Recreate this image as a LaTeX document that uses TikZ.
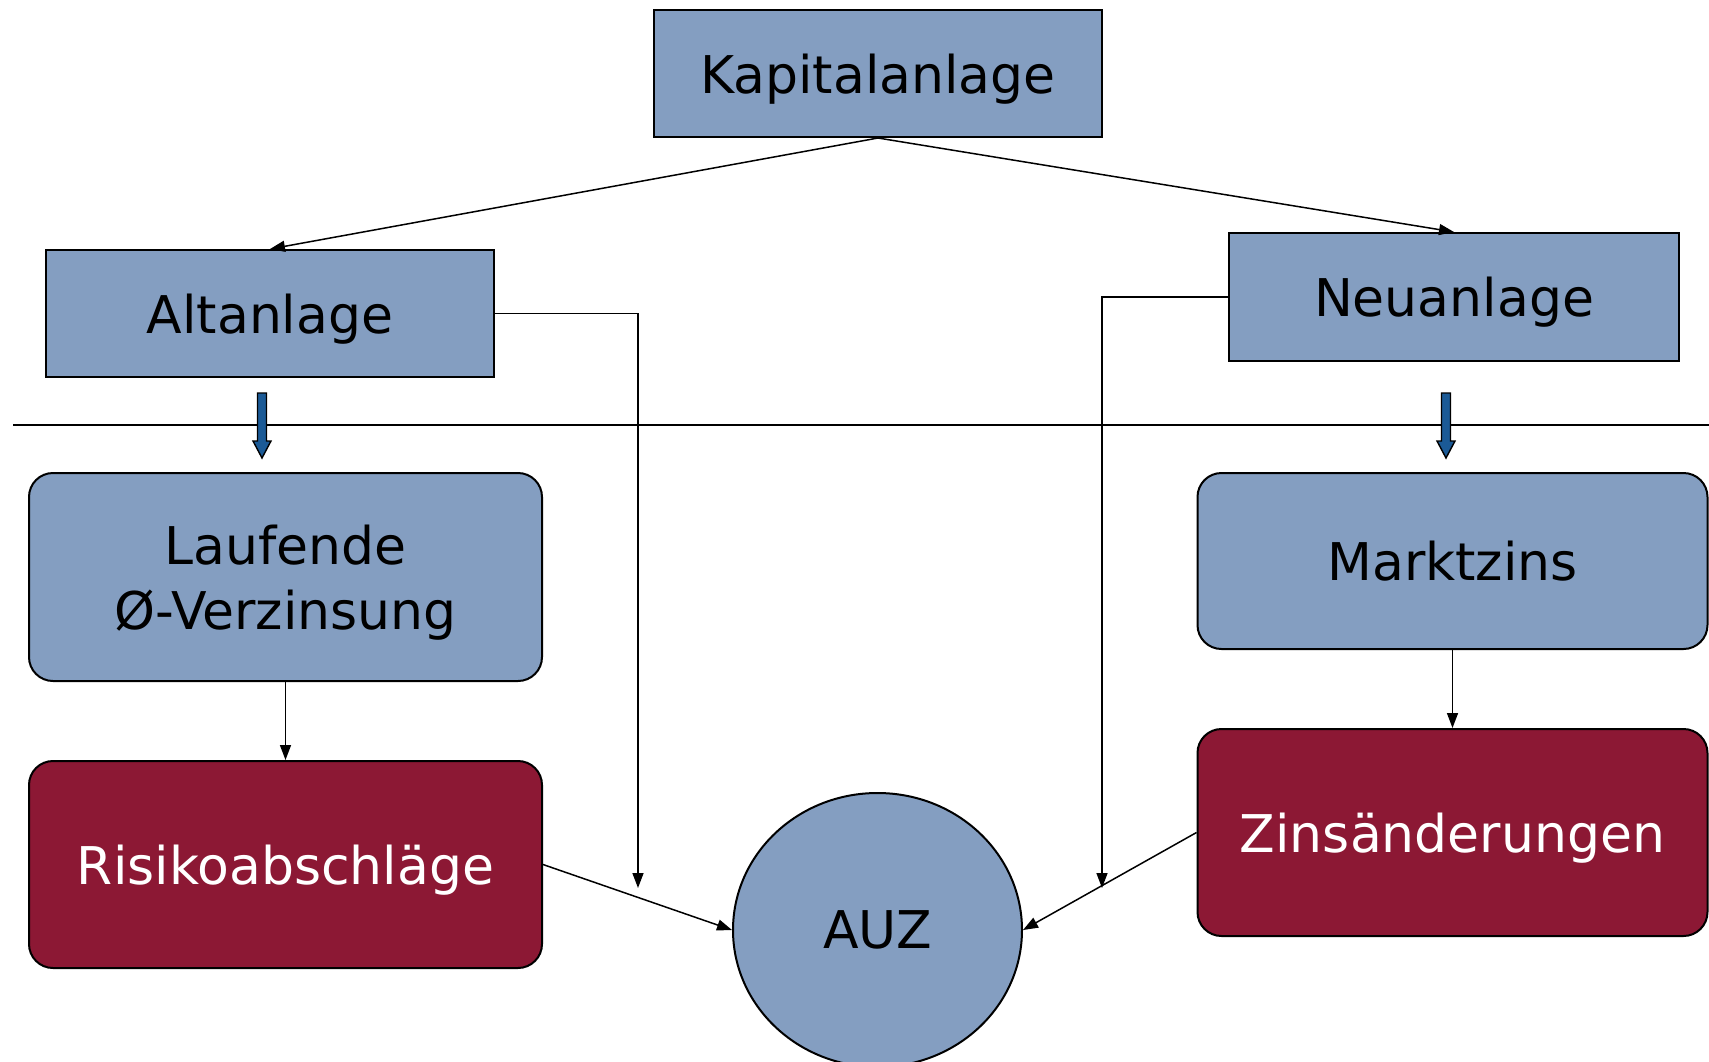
\documentclass[tikz,border=0pt]{standalone}
\usepackage{fontspec}
\setmainfont{DejaVu Sans}
\usetikzlibrary{arrows.meta,shapes.geometric}
\definecolor{boxblue}{RGB}{132,158,193}
\definecolor{boxred}{RGB}{140,24,52}
\definecolor{arrblue}{RGB}{27,90,150}
\tikzset{
  base/.style={draw=black,line width=1pt,inner sep=0pt,align=center,text depth=0pt,font=\fontsize{26}{32.5}\selectfont},
  sqbox/.style={base,rectangle,fill=boxblue,text=black},
  rbox/.style={base,rectangle,rounded corners=12pt,fill=boxblue,text=black},
  redbox/.style={base,rectangle,rounded corners=12pt,fill=boxred,text=white},
  conn/.style={draw=black,line width=0.75pt,-{Triangle[length=7.5pt,width=5.5pt]}},
  blockarrow/.style={draw=black,line width=0.7pt,fill=arrblue}
}
\begin{document}
\begin{tikzpicture}[x=0.5pt,y=-0.5pt]
\useasboundingbox (0,0) rectangle (1709,1061);
\begin{scope}
\clip (0,0) rectangle (1709,1061);
% separator line
\draw[line width=0.75pt] (13,425) -- (1709,425);

\node[sqbox,minimum width=224pt,minimum height=63.5pt] (kap) at (878,73.5) {Kapitalanlage};
\node[sqbox,minimum width=224pt,minimum height=63.5pt] (alt) at (270,313.5) {Altanlage};
\node[sqbox,minimum width=225pt,minimum height=64pt] (neu) at (1454,297) {Neuanlage};
\node[rbox,minimum width=256.5pt,minimum height=104pt] (lauf) at (285.5,577) {Laufende\\ Ø-Verzinsung};
\node[redbox,minimum width=256.5pt,minimum height=103.5pt] (risk) at (285.5,864.5) {Risikoabschläge};
\node[rbox,minimum width=255pt,minimum height=88pt] (markt) at (1452.5,561) {Marktzins};
\node[redbox,minimum width=255pt,minimum height=103.5pt] (zins) at (1452.5,832.5) {Zinsänderungen};
\node[base,ellipse,fill=boxblue,minimum width=144.5pt,minimum height=137pt] (auz) at (877.5,930) {AUZ};

\coordinate (c1) at (638,888);
\coordinate (c2) at (1102,888);

% blue block arrows
\draw[blockarrow] (257.5,393) -- (266.5,393) -- (266.5,441) -- (271,441) -- (262,458) -- (253,441) -- (257.5,441) -- cycle;
\draw[blockarrow] (1441.5,393) -- (1450.5,393) -- (1450.5,441) -- (1455,441) -- (1446,458) -- (1437,441) -- (1441.5,441) -- cycle;

% connectors
\draw[conn] (kap.south) -- (alt.north);
\draw[conn] (kap.south) -- (neu.north);
\draw[conn] (alt.east) -| (c1);
\draw[conn] (neu.west) -| (c2);
\draw[conn] (lauf.south) -- (risk.north);
\draw[conn] (markt.south) -- (zins.north);
\draw[conn] (risk.east) -- (auz.west);
\draw[conn] (zins.west) -- (auz.east);
\end{scope}
\end{tikzpicture}
\end{document}
